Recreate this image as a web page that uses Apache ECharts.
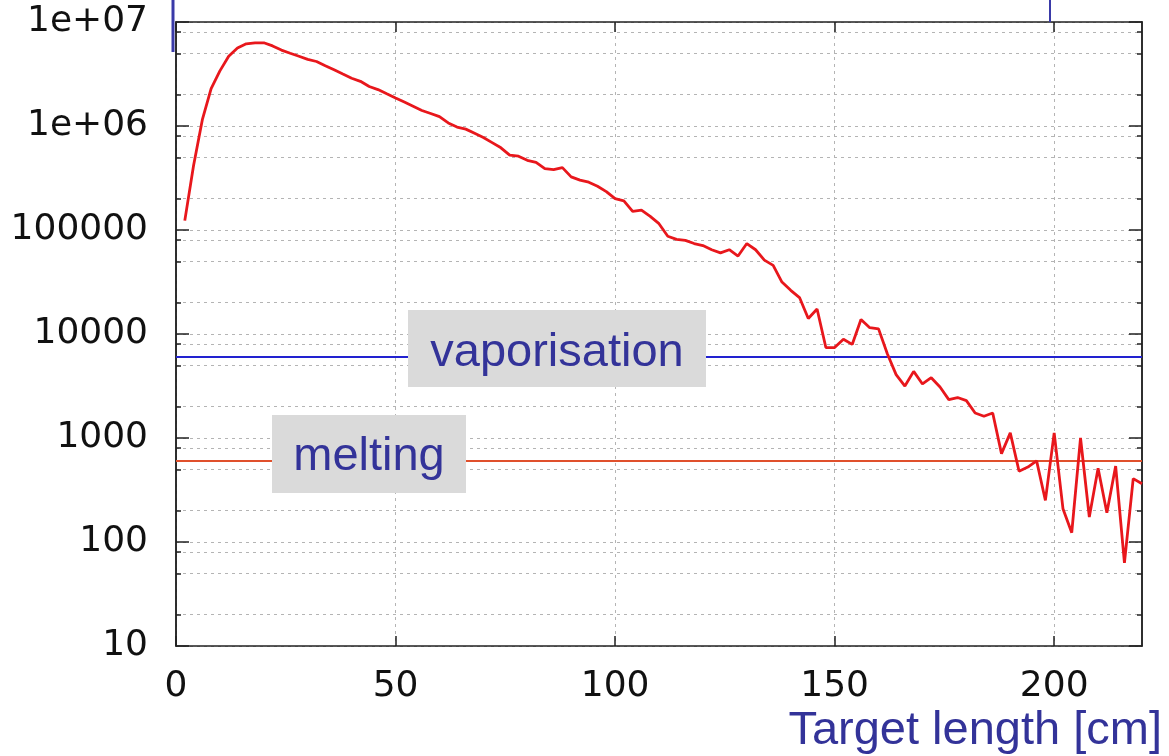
<!DOCTYPE html>
<html>
<head>
<meta charset="utf-8">
<script src="https://cdn.jsdelivr.net/npm/echarts@6/dist/echarts.min.js"></script>
<style>
  html, body { margin: 0; padding: 0; background: #fff; }
  #main { width: 1169px; height: 756px; }
</style>
</head>
<body>
<div id="main"></div>
<script>
// target length [cm]
var lengthCm = [2, 4, 6, 8, 10, 12, 14, 16, 18, 20, 22, 24, 26, 28, 30, 32, 34, 36, 38, 40,
    42, 44, 46, 48, 50, 52, 54, 56, 58, 60, 62, 64, 66, 68, 70, 72, 74, 76, 78, 80,
    82, 84, 86, 88, 90, 92, 94, 96, 98, 100, 102, 104, 106, 108, 110, 112, 114, 116, 118, 120,
    122, 124, 126, 128, 130, 132, 134, 136, 138, 140, 142, 144, 146, 148, 150, 152, 154, 156, 158, 160,
    162, 164, 166, 168, 170, 172, 174, 176, 178, 180, 182, 184, 186, 188, 190, 192, 194, 196, 198, 200,
    202, 204, 206, 208, 210, 212, 214, 216, 218, 220];
var deposit = [123000, 417000, 1150000, 2290000, 3390000, 4680000, 5620000, 6170000, 6310000, 6310000,
    5890000, 5370000, 5010000, 4680000, 4370000, 4170000, 3800000, 3470000, 3160000, 2880000,
    2690000, 2400000, 2240000, 2040000, 1860000, 1700000, 1550000, 1410000, 1320000, 1230000,
    1070000, 977000, 933000, 851000, 776000, 692000, 617000, 525000, 513000, 468000,
    447000, 389000, 380000, 398000, 324000, 302000, 288000, 263000, 234000, 200000,
    191000, 151000, 155000, 135000, 115000, 87100, 81300, 79400, 74100, 70800,
    64600, 60300, 64600, 56200, 74100, 64600, 51300, 45700, 31600, 26300,
    22400, 14100, 17400, 7410, 7410, 8910, 7940, 13800, 11500, 11200,
    6460, 4070, 3160, 4370, 3310, 3800, 3090, 2340, 2450, 2290,
    1740, 1620, 1740, 708, 1120, 479, 525, 603, 251, 1120,
    209, 123, 1000, 174, 513, 191, 537, 63, 407, 363];

// thresholds
var vaporisationLevel = 6000;
var meltingLevel = 600;

// tick values
var xTicks = [0, 50, 100, 150, 200];
var yMajorTicks = [10, 100, 1000, 10000, 100000, 1000000, 10000000];
var yMinorTicks = [20, 50, 80, 200, 500, 800, 2000, 5000, 8000, 20000, 50000, 80000,
    200000, 500000, 800000, 2000000, 5000000, 8000000];

var chart = echarts.init(document.getElementById('main'));

var gridDot = { color: '#b4b4b4', width: 1, type: [3, 4] };
var axisDark = { color: '#222', width: 1.5 };
var numFont = 'DejaVu Sans';
var blueFont = '47px "Liberation Sans", Arial, sans-serif';

function yLabel(v) {
    var e = Math.round(Math.log10(v));
    if (e >= 6) return '1e+' + (e < 10 ? '0' + e : e);
    return String(Math.round(v));
}

function yAxisDef(pos, ticks, len, showLabel, showSplit) {
    return {
        type: 'log',
        logBase: 10,
        min: 10,
        max: 10000000,
        position: pos,
        axisLine: { show: true, lineStyle: axisDark },
        axisTick: { show: true, inside: true, length: len, lineStyle: axisDark, customValues: ticks },
        axisLabel: {
            show: showLabel,
            customValues: ticks,
            formatter: yLabel,
            color: '#111',
            fontSize: 36,
            fontFamily: numFont,
            margin: 28
        },
        splitLine: { show: showSplit, lineStyle: gridDot },
        minorTick: { show: false },
        minorSplitLine: { show: false }
    };
}

var option = {
    animation: false,
    backgroundColor: '#fff',
    grid: { left: 176, right: 27, top: 22, bottom: 110, containLabel: false },
    xAxis: [{
        type: 'value',
        min: 0,
        max: 220,
        position: 'bottom',
        axisLine: { show: true, lineStyle: axisDark },
        axisTick: { show: true, inside: true, length: 10, lineStyle: axisDark, customValues: xTicks },
        axisLabel: {
            customValues: xTicks,
            color: '#111',
            fontSize: 36,
            fontFamily: numFont,
            margin: 23
        },
        splitLine: { show: true, lineStyle: gridDot }
    }, {
        type: 'value',
        min: 0,
        max: 220,
        position: 'top',
        axisLine: { show: true, lineStyle: axisDark },
        axisTick: { show: true, inside: true, length: 10, lineStyle: axisDark, customValues: xTicks },
        axisLabel: { show: false },
        splitLine: { show: false }
    }],
    yAxis: [
        yAxisDef('left', yMajorTicks, 13, true, true),
        yAxisDef('left', yMinorTicks, 5, false, true),
        yAxisDef('right', yMajorTicks, 13, false, false),
        yAxisDef('right', yMinorTicks, 5, false, false)
    ],
    series: [{
        type: 'line',
        xAxisIndex: 0,
        yAxisIndex: 0,
        data: lengthCm.map(function (x, i) { return [x, deposit[i]]; }),
        showSymbol: false,
        symbol: 'none',
        lineStyle: { color: '#e8171c', width: 2.8 },
        z: 5,
        markLine: {
            silent: true,
            symbol: 'none',
            label: { show: false },
            data: [
                { yAxis: vaporisationLevel, lineStyle: { color: '#2222d0', width: 2, type: 'solid' } },
                { yAxis: meltingLevel, lineStyle: { color: '#e0502c', width: 2, type: 'solid' } }
            ]
        }
    }],
    graphic: [
        { type: 'line', shape: { x1: 173, y1: 0, x2: 173, y2: 52 }, style: { stroke: '#3a3aa8', lineWidth: 3 }, z: 100 },
        { type: 'line', shape: { x1: 1050, y1: 0, x2: 1050, y2: 22 }, style: { stroke: '#3a3aa8', lineWidth: 2 }, z: 100 },
        { type: 'rect', shape: { x: 408, y: 310, width: 298, height: 77 }, style: { fill: '#dadada' }, z: 100 },
        {
            type: 'text', x: 557, y: 353, z: 101,
            style: { text: 'vaporisation', fill: '#333399', font: blueFont, align: 'center', verticalAlign: 'middle' }
        },
        { type: 'rect', shape: { x: 272, y: 415, width: 194, height: 78 }, style: { fill: '#dadada' }, z: 100 },
        {
            type: 'text', x: 369, y: 457, z: 101,
            style: { text: 'melting', fill: '#333399', font: blueFont, align: 'center', verticalAlign: 'middle' }
        },
        {
            type: 'text', x: 1162, y: 731, z: 101,
            style: { text: 'Target length [cm]', fill: '#333399', font: blueFont, align: 'right', verticalAlign: 'middle' }
        }
    ]
};

chart.setOption(option);
window.addEventListener('resize', function () {
    chart.resize();
});
</script>
</body>
</html>
